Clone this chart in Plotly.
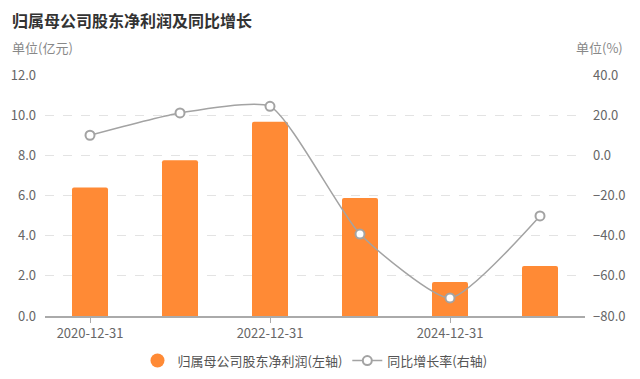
import plotly.graph_objects as go

categories = ["2020-12-31", "2021-12-31", "2022-12-31", "2023-12-31", "2024-12-31", "2025-09-30"]
profit = [6.40, 7.76, 9.67, 5.88, 1.69, 2.49]
growth = [10.0, 21.1, 24.4, -39.2, -71.0, -30.2]
shown_ticks = ["2020-12-31", "2022-12-31", "2024-12-31"]
left_ticks = [0, 2, 4, 6, 8, 10, 12]
right_ticks = [-80, -60, -40, -20, 0, 20, 40]

BAR = "#FF8A35"
LINE = "#A3A3A3"
FONT = "Noto Sans CJK SC"

# page body has an 8px default margin; compensate in figure margins
L, T, PW, PH = 37, 67, 540, 241

fig = go.Figure()
fig.add_trace(go.Bar(
    x=categories, y=profit, name="归属母公司股东净利润(左轴)",
    marker=dict(color=BAR, line=dict(width=0), cornerradius=2), width=0.4,
    showlegend=False, yaxis="y",
))
fig.add_trace(go.Scatter(
    x=categories, y=growth, name="同比增长率(右轴)", yaxis="y2",
    mode="lines+markers", line=dict(color=LINE, width=1.5, shape="spline", smoothing=0.55),
    marker=dict(symbol="circle", size=9, color="white", line=dict(color=LINE, width=2)),
    showlegend=False,
))
# legend entries
fig.add_trace(go.Scatter(
    x=[None], y=[None], mode="markers", name="归属母公司股东净利润(左轴)",
    marker=dict(symbol="circle", size=14, color=BAR),
))
fig.add_trace(go.Scatter(
    x=[None], y=[None], mode="lines+markers", name="同比增长率(右轴)",
    line=dict(color=LINE, width=1.5),
    marker=dict(symbol="circle", size=9, color="white", line=dict(color=LINE, width=2)),
))

fig.update_layout(
    width=640, height=379,
    margin=dict(l=L, r=640 - L - PW, t=T, b=379 - T - PH, autoexpand=False),
    paper_bgcolor="white", plot_bgcolor="white",
    font=dict(family=FONT, color="#666666", size=13),
    bargap=0.6,
    xaxis=dict(
        type="category", categoryorder="array", categoryarray=categories,
        range=[-0.5, len(categories) - 0.5], automargin=False,
        tickmode="array", tickvals=shown_ticks, ticktext=shown_ticks,
        showline=True, linecolor="#AAAAAA", linewidth=1.5,
        ticks="outside", ticklen=5, tickcolor="#AAAAAA",
        showgrid=False, tickfont=dict(size=13, color="#666666"),
    ),
    yaxis=dict(
        range=[0, 12], tickvals=left_ticks, tickformat=".1f", automargin=False,
        showgrid=True, gridcolor="#E3E3E3", griddash="dash", gridwidth=1,
        zeroline=False, showline=False, ticks="", ticklabelstandoff=8,
        tickfont=dict(size=13, color="#666666"),
    ),
    yaxis2=dict(
        range=[-80, 40], tickvals=right_ticks, tickformat=".1f", automargin=False,
        overlaying="y", side="right", showgrid=False, zeroline=False,
        showline=False, ticks="", ticklabelstandoff=7,
        tickfont=dict(size=13, color="#666666"),
    ),
    legend=dict(
        orientation="h", x=0.5, xanchor="center", y=-0.185, yanchor="middle",
        font=dict(size=13, color="#555555"), itemwidth=30,
    ),
    annotations=[
        dict(text="<b>归属母公司股东净利润及同比增长</b>", xref="paper", yref="paper",
             x=-35 / PW, y=1 + 55 / PH, xanchor="left", yanchor="middle", showarrow=False,
             font=dict(size=16, color="#333333")),
        dict(text="单位(亿元)", xref="paper", yref="paper",
             x=-35 / PW, y=1 + 27 / PH, xanchor="left", yanchor="middle", showarrow=False,
             font=dict(size=13, color="#888888")),
        dict(text="单位(%)", xref="paper", yref="paper",
             x=1 + 40 / PW, y=1 + 27 / PH, xanchor="right", yanchor="middle", showarrow=False,
             font=dict(size=13, color="#888888")),
    ],
)

fig.write_html("out.html")
